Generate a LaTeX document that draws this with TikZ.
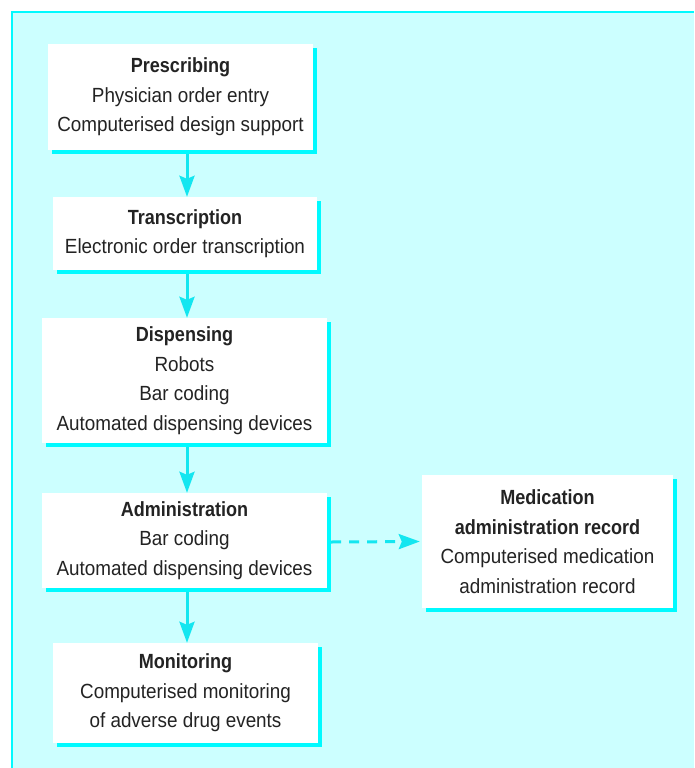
\documentclass[tikz,border=0pt]{standalone}
\usepackage{fontspec}
\setmainfont{Liberation Sans}[FakeStretch=0.92, BoldFeatures={FakeStretch=0.88}]
\usetikzlibrary{arrows.meta,shadows,calc}
\definecolor{panel}{RGB}{204,255,255}
\definecolor{edge}{RGB}{0,250,255}
\definecolor{arrowc}{RGB}{20,230,240}
\definecolor{txt}{RGB}{35,35,35}
\begin{document}
\begin{tikzpicture}[x=1pt,y=-1pt,
  box/.style={fill=white, inner sep=0pt, align=center, text=txt,
    font=\fontsize{20.5}{29.5}\selectfont,
    drop shadow={shadow xshift=4pt, shadow yshift=-4pt, fill=edge, opacity=1}},
  flow/.style={draw=arrowc, line width=3pt, -{Stealth[length=21pt,width=15pt,inset=3pt]}},
  dflow/.style={flow, dash pattern=on 10pt off 8pt}]
\useasboundingbox (0,0) rectangle (694,768);
\fill[white] (0,0) rectangle (694,768);
\fill[panel] (11,11) rectangle (694,768);
\draw[edge, line width=2pt] (12,768) -- (12,12) -- (694,12);
\coordinate (ax) at (187,0);
\node[box, minimum width=265pt, minimum height=106pt] (p) at (180.5,97)
  {\textbf{Prescribing}\\Physician order entry\\Computerised design support};
\node[box, minimum width=264pt, minimum height=73pt] (t) at (185,233.5)
  {\textbf{Transcription}\\Electronic order transcription};
\node[box, minimum width=285pt, minimum height=125pt] (d) at (184.5,380.5)
  {\textbf{Dispensing}\\Robots\\Bar coding\\Automated dispensing devices};
\node[box, minimum width=285pt, minimum height=95pt] (a) at (184.5,540.5)
  {\textbf{Administration}\\Bar coding\\Automated dispensing devices};
\node[box, minimum width=265pt, minimum height=100pt] (m) at (185.5,693)
  {\textbf{Monitoring}\\Computerised monitoring\\of adverse drug events};
\node[box, minimum width=251pt, minimum height=133pt] (r) at (547.5,541.5)
  {\textbf{Medication}\\\textbf{administration record}\\Computerised medication\\administration record};
\draw[flow] ($(p.south -| ax)+(0,4)$) -- (t.north -| ax);
\draw[flow] ($(t.south -| ax)+(0,4)$) -- (d.north -| ax);
\draw[flow] ($(d.south -| ax)+(0,4)$) -- (a.north -| ax);
\draw[flow] ($(a.south -| ax)+(0,4)$) -- (m.north -| ax);
\draw[dflow] ($(a.east)+(4,1.5)$) -- ($(r.west)+(-2,0)$);
\end{tikzpicture}
\end{document}
